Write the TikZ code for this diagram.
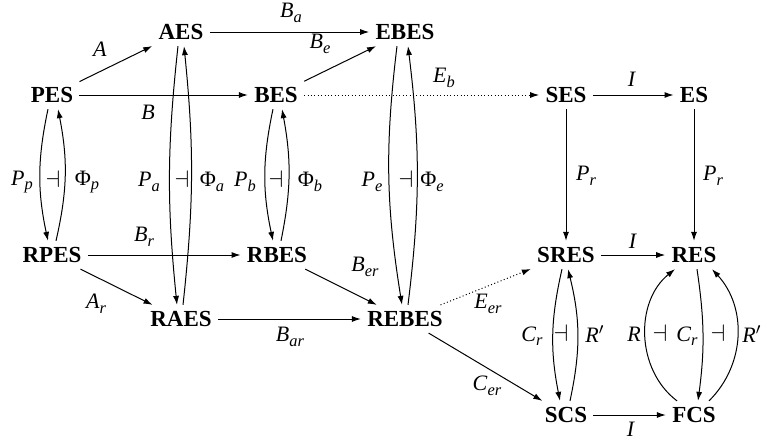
\documentclass[tikz,border=0pt]{standalone}
\usepackage{fontspec}
\setmainfont{Liberation Serif}
\usetikzlibrary{arrows.meta}
\newcommand{\mlab}[2]{\textit{#1}\raisebox{-0.45ex}{\fontsize{8.2}{9}\selectfont\textit{#2}}}
\newcommand{\phlab}[1]{Φ\raisebox{-0.45ex}{\fontsize{8.2}{9}\selectfont\textit{#1}}}
\newcommand{\adj}{\fontsize{13}{14}\selectfont$\dashv$}
\begin{document}
\begin{tikzpicture}[x=0.5pt,y=-0.5pt,
  obj/.style={font=\fontsize{11.5}{13}\selectfont\bfseries, inner sep=3pt},
  lab/.style={font=\fontsize{11}{13}\selectfont, inner sep=0pt},
  arr/.style={line width=0.5pt, -{Latex[length=4.5pt,width=3pt]}},
  dotarr/.style={arr, dash pattern=on 0.5pt off 1.2pt}]
\useasboundingbox (0,0) rectangle (762,445);
% objects
\node[obj] (PES)   at (52,95)   {PES};
\node[obj] (AES)   at (181,32)  {AES};
\node[obj] (BES)   at (276,95)  {BES};
\node[obj] (EBES)  at (405,32)  {EBES};
\node[obj] (SES)   at (566,95)  {SES};
\node[obj] (ES)    at (694,95)  {ES};
\node[obj] (RPES)  at (52,255)  {RPES};
\node[obj] (RBES)  at (277,255) {RBES};
\node[obj] (RAES)  at (181,319) {RAES};
\node[obj] (REBES) at (405,319) {REBES};
\node[obj] (SRES)  at (566,255) {SRES};
\node[obj] (RES)   at (694,255) {RES};
\node[obj] (SCS)   at (566,415) {SCS};
\node[obj] (FCS)   at (694,415) {FCS};
% straight arrows
\draw[arr] (PES) -- (AES);
\draw[arr] (AES) -- (EBES);
\draw[arr] (BES) -- (EBES);
\draw[arr] (PES) -- (BES);
\draw[dotarr] (BES) -- (SES);
\draw[arr] (SES) -- (ES);
\draw[arr] (SES) -- (SRES);
\draw[arr] (ES) -- (RES);
\draw[arr] (RPES) -- (RBES);
\draw[arr] (RPES) -- (RAES);
\draw[arr] (RAES) -- (REBES);
\draw[arr] (RBES) -- (REBES);
\draw[dotarr] (REBES) -- (SRES);
\draw[arr] (REBES) -- (SCS);
\draw[arr] (SRES) -- (RES);
\draw[arr] (SCS) -- (FCS);
% adjunction pairs
\draw[arr] ([xshift=-2pt]PES.south) to[bend right=12] ([xshift=-2pt]RPES.north);
\draw[arr] ([xshift=2pt]RPES.north) to[bend right=12] ([xshift=3pt]PES.south);
\draw[arr] ([xshift=-1.5pt]AES.south) to[bend right=6] ([xshift=-2pt]RAES.north);
\draw[arr] ([xshift=1pt]RAES.north) to[bend right=6] ([xshift=1.5pt]AES.south);
\draw[arr] ([xshift=-1.5pt]BES.south) to[bend right=12] ([xshift=-2pt]RBES.north);
\draw[arr] ([xshift=2pt]RBES.north) to[bend right=11] ([xshift=3pt]BES.south);
\draw[arr] ([xshift=-4pt]EBES.south) to[bend right=8] ([xshift=-1.5pt]REBES.north);
\draw[arr] ([xshift=1.5pt]REBES.north) to[bend right=7] ([xshift=1.5pt]EBES.south);
\draw[arr] ([xshift=-2pt]SRES.south) to[bend right=12] ([xshift=-3pt]SCS.north);
\draw[arr] ([xshift=2pt]SCS.north) to[bend right=13] ([xshift=1pt]SRES.south);
\draw[arr] ([xshift=-8.5pt]FCS.north) to[bend left=52] ([xshift=-9.5pt]RES.south);
\draw[arr] ([xshift=1.5pt]RES.south) to[bend left=8] ([xshift=2pt]FCS.north);
\draw[arr] ([xshift=7.5pt]FCS.north) to[bend right=44] ([xshift=9pt]RES.south);
% labels
\node[lab] (lA)   at (100,49)  {\textit{A}};
\node[lab] (lB)   at (148,112) {\textit{B}};
\node[lab] (lBa)  at (291,13)  {\mlab{B}{a}};
\node[lab] (lBe)  at (320,44)  {\mlab{B}{e}};
\node[lab] (lEb)  at (444,78)  {\mlab{E}{b}};
\node[lab] (lI1)  at (632,79)  {\textit{I}};
\node[lab] (lPr1) at (586,176) {\mlab{P}{r}};
\node[lab] (lPr2) at (713,176) {\mlab{P}{r}};
\node[lab] (lPp)  at (22,182)  {\mlab{P}{p}};
\node[lab] (dv1)  at (53,179)  {\adj};
\node[lab] (lPhp) at (87,182)  {\phlab{p}};
\node[lab] (lPa)  at (149,182) {\mlab{P}{a}};
\node[lab] (dv2)  at (182,179) {\adj};
\node[lab] (lPha) at (212,182) {\phlab{a}};
\node[lab] (lPb)  at (245,182) {\mlab{P}{b}};
\node[lab] (dv3)  at (276,179) {\adj};
\node[lab] (lPhb) at (310,182) {\phlab{b}};
\node[lab] (lPe)  at (372,182) {\mlab{P}{e}};
\node[lab] (dv4)  at (406,179) {\adj};
\node[lab] (lPhe) at (432,182) {\phlab{e}};
\node[lab] (lBr)  at (144,237) {\mlab{B}{r}};
\node[lab] (lAr)  at (96,304)  {\mlab{A}{r}};
\node[lab] (lBer) at (365,267) {\mlab{B}{er}};
\node[lab] (lBar) at (290,337) {\mlab{B}{ar}};
\node[lab] (lEer) at (488,304) {\mlab{E}{er}};
\node[lab] (lCer) at (487,386) {\mlab{C}{er}};
\node[lab] (lI2)  at (633,241) {\textit{I}};
\node[lab] (lI3)  at (631,429) {\textit{I}};
\node[lab] (lCr1) at (532,336) {\mlab{C}{r}};
\node[lab] (dv5)  at (561,333) {\adj};
\node[lab] (lRp1) at (595,334) {\textit{R}$'$};
\node[lab] (lR)   at (634,334) {\textit{R}};
\node[lab] (dv6)  at (660,333) {\adj};
\node[lab] (lCr2) at (687,336) {\mlab{C}{r}};
\node[lab] (dv7)  at (718,333) {\adj};
\node[lab] (lRp2) at (752,334) {\textit{R}$'$};
\end{tikzpicture}
\end{document}
